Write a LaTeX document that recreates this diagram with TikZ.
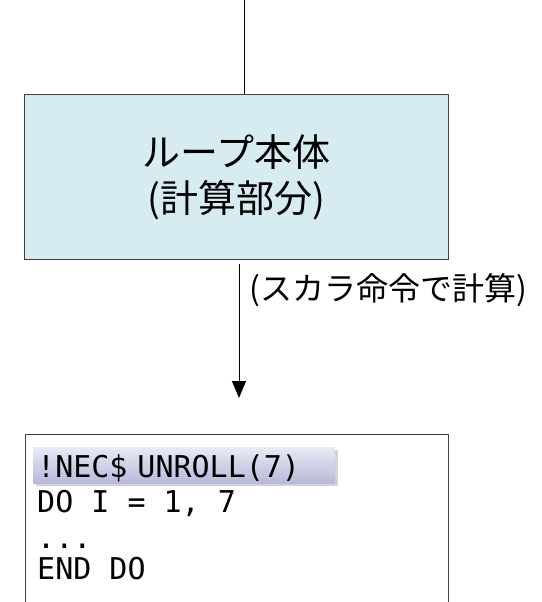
\documentclass[tikz,border=0pt]{standalone}
\usepackage{fontspec}
\setmonofont{DejaVu Sans Mono}
\newfontfamily\jpfont{Noto Sans CJK JP}
\usetikzlibrary{positioning, arrows.meta, shadows}

\definecolor{loopfill}{RGB}{214,236,240}
\definecolor{necTop}{RGB}{232,234,246}
\definecolor{necBottom}{RGB}{182,186,216}

\begin{document}
\begin{tikzpicture}[x=1pt, y=-1pt,
    bodybox/.style={draw=black!75, fill=loopfill, line width=0.9pt,
        minimum width=424pt, minimum height=165pt, align=center,
        font=\jpfont\fontsize{38}{46}\selectfont},
    lbl/.style={font=\jpfont\fontsize{32}{36}\selectfont, inner sep=0pt},
    directive/.style={top color=necTop, bottom color=necBottom,
        drop shadow={shadow xshift=3pt, shadow yshift=-3pt, opacity=0.35},
        text width=294pt, align=left, inner xsep=4pt, inner ysep=4pt,
        text height=26pt, text depth=2pt,
        font=\ttfamily\fontsize{30}{34}\selectfont},
    codeline/.style={anchor=base west, inner sep=0pt,
        font=\ttfamily\fontsize{30}{34}\selectfont},
    flow/.style={line width=1pt, -{Triangle[width=14pt, length=17pt]}}]
    \useasboundingbox (0,0) rectangle (541,602);

    % loop body
    \node[bodybox] (body) at (236.5,177) {ループ本体\\(計算部分)};
    \coordinate (in) at (244,0);
    \draw[line width=1pt] (in) -- (in |- body.north);

    % scalar path
    \coordinate (tip) at (239,398);
    \draw[flow] ([yshift=-4pt]body.south -| tip) -- (tip);
    \node[lbl, anchor=west] (scalar) at (249,290) {(スカラ命令で計算)};

    % source code
    \coordinate (cbl) at (25,602);
    \coordinate (ctl) at (25,434);
    \coordinate (ctr) at (448,434);
    \coordinate (cbr) at (448,602);
    \draw[black!75, line width=0.9pt] (cbl) -- (ctl) -- (ctr) -- (cbr);

    \node[directive, anchor=north west] (nec) at (33,447) {!NEC\$\ UNROLL(7)};
    \node[codeline] (doline) at (37,512) {DO I = 1, 7};
    \node[codeline] (dots) at (37,548) {...};
    \node[codeline] (enddo) at (37,579) {END DO};
\end{tikzpicture}
\end{document}
